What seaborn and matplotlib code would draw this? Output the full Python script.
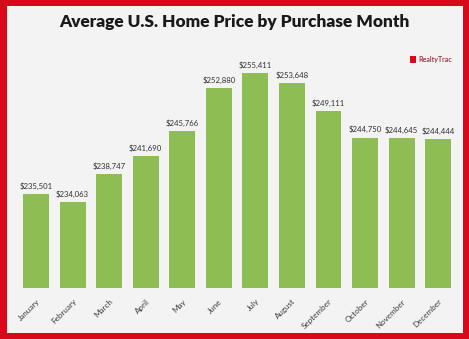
import matplotlib
matplotlib.use("Agg")
import matplotlib.pyplot as plt
import seaborn as sns
import pandas as pd
from matplotlib.patches import Rectangle

months = ["January", "February", "March", "April", "May", "June", "July",
          "August", "September", "October", "November", "December"]
prices = [235501, 234063, 238747, 241690, 245766, 252880, 255411,
          253648, 249111, 244750, 244645, 244444]
labels = ["$235,501", "$234,063", "$238,747", "$241,690", "$245,766", "$252,880",
          "$255,411", "$253,648", "$249,111", "$244,750", "$244,645", "$244,444"]

df = pd.DataFrame({"month": months, "price": prices})

sns.set_theme(style="white")
plt.rcParams['font.family'] = ['Lato', 'DejaVu Sans']

W, H = 469, 339
fig = plt.figure(figsize=(W / 100, H / 100), dpi=100)
fig.patch.set_facecolor("#d8091b")

# inner panel
panel = Rectangle((7 / W, 1 - 333 / H), (463 - 7) / W, (333 - 6) / H,
                  transform=fig.transFigure, facecolor="#f3f3f3",
                  edgecolor="none", zorder=-10)
fig.patches.append(panel)

left_px, right_px = 17.7, 456.5
top_px, bottom_px = 60, 288
ax = fig.add_axes([left_px / W, 1 - bottom_px / H,
                   (right_px - left_px) / W, (bottom_px - top_px) / H])
ax.patch.set_alpha(0)
ax.set_zorder(5)

sns.barplot(data=df, x="month", y="price", color="#8dbd53", saturation=1,
            width=0.71, linewidth=0, ax=ax)
ax.set_ylim(220000, 257500)
ax.set_xlim(-0.5, 11.5)
for s in ax.spines.values():
    s.set_visible(False)
ax.set_yticks([])
ax.set_xlabel("")
ax.set_ylabel("")
ax.tick_params(axis="x", length=0, pad=7)
ax.set_xticks(range(len(months)))
ax.set_xticklabels(months, rotation=45, ha="right", rotation_mode="anchor",
                   fontsize=5.8, color="#3c3c3c")

for i, (p, lab) in enumerate(zip(prices, labels)):
    ax.annotate(lab, (i, p), xytext=(0, 3), textcoords="offset points",
                ha="center", va="bottom", fontsize=5.6, color="#303030")

fig.text(0.5, 1 - 22 / H, "Average U.S. Home Price by Purchase Month",
         ha="center", va="center", fontsize=12.4, fontweight="heavy",
         color="#1a1a1a")

# logo
logo = Rectangle((410 / W, 1 - 63 / H), 6 / W, 7 / H, transform=fig.transFigure,
                 facecolor="#d8091b", edgecolor="none", zorder=2)
fig.patches.append(logo)
fig.text(418 / W, 1 - 59.5 / H, "RealtyTrac", ha="left", va="center",
         fontsize=5, fontweight="bold", color="#a33a44")

fig.savefig("out.png", dpi=100, facecolor=fig.get_facecolor())
